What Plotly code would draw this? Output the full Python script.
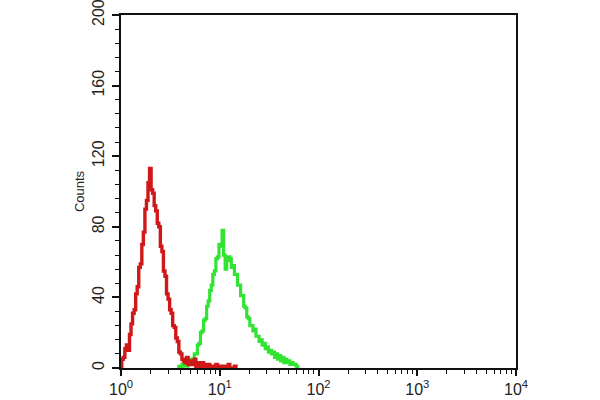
import plotly.graph_objects as go

# Channels: 1024 channels over 4 decades (256 channels per decade)
red_channels = list(range(0, 304, 4))
red_counts = [1, 5, 6, 11, 13, 10, 19, 25, 31, 33, 42, 46, 57, 59, 70, 77, 90, 95, 105, 113,
              101, 99, 92, 89, 82, 80, 69, 66, 55, 52, 42, 39, 33, 31, 24, 23, 17, 15, 9, 8,
              5, 4, 3, 6, 2, 4, 3, 2, 5, 1, 3, 2, 1, 3, 2, 1, 0, 2, 1, 0,
              1, 0, 2, 0, 1, 0, 0, 1, 0, 0, 2, 0, 0, 0, 1, 0]

green_channels = list(range(148, 464, 4))
green_counts = [0, 1, 0, 2, 1, 3, 1, 4, 3, 5, 4, 8, 8, 13, 14, 20, 21, 27, 28, 35,
                38, 44, 47, 53, 55, 62, 63, 70, 69, 78, 64, 56, 61, 63, 62, 57, 58, 53, 53, 47,
                47, 41, 41, 35, 34, 29, 28, 24, 24, 21, 22, 18, 18, 15, 16, 13, 14, 11, 12, 9,
                10, 8, 9, 6, 8, 5, 7, 4, 6, 3, 5, 3, 4, 2, 3, 2, 2, 1, 0]

x_major = [1, 10, 100, 1000, 10000]
x_major_labels = ["10<sup>0</sup>", "10<sup>1</sup>", "10<sup>2</sup>", "10<sup>3</sup>", "10<sup>4</sup>"]
x_minor = [m * d for d in [1, 10, 100, 1000] for m in range(2, 10)]
y_major = [0, 40, 80, 120, 160, 200]
y_minor = list(range(0, 201, 8))

def to_value(ch):
    return [10 ** (c / 256) for c in ch]

fig = go.Figure()
fig.add_trace(go.Scatter(x=to_value(green_channels), y=green_counts, mode="lines",
                         line=dict(color="#33e333", width=3.2, shape="hvh"), showlegend=False))
fig.add_trace(go.Scatter(x=to_value(red_channels), y=red_counts, mode="lines",
                         line=dict(color="#d01818", width=3.4, shape="hvh"), showlegend=False))

font = dict(family="Liberation Sans, Arial, sans-serif", color="#222", size=16)
fig.update_layout(
    width=600, height=400,
    margin=dict(l=121, r=84, t=15, b=32),
    paper_bgcolor="white", plot_bgcolor="white",
    font=font,
    xaxis=dict(type="log", range=[0, 4], tickvals=x_major, ticktext=x_major_labels,
               ticks="outside", ticklen=6, tickwidth=1.5, tickcolor="#111",
               showline=True, linecolor="#111", linewidth=1.6, mirror=True,
               showgrid=False, zeroline=False, automargin=False,
               ticklabeloverflow="allow", ticklabelstandoff=0,
               minor=dict(tickvals=x_minor, ticks="outside", ticklen=4, tickcolor="#111", tickwidth=1.2),
               tickfont=dict(size=16)),
    yaxis=dict(range=[0, 200], tickvals=y_major, ticks="outside", ticklen=7, tickwidth=1.5,
               tickcolor="#111", tickangle=-90,
               showline=True, linecolor="#111", linewidth=1.6, mirror=True,
               showgrid=False, zeroline=False, automargin=False,
               ticklabeloverflow="allow", ticklabelstandoff=2,
               minor=dict(tickvals=y_minor, ticks="outside", ticklen=4, tickcolor="#111", tickwidth=1.2),
               title=dict(text="Counts", font=dict(size=13), standoff=2),
               tickfont=dict(size=16)),
)

fig.write_html("out.html", config={"displayModeBar": False},
               post_script="document.body.style.margin='0';")
